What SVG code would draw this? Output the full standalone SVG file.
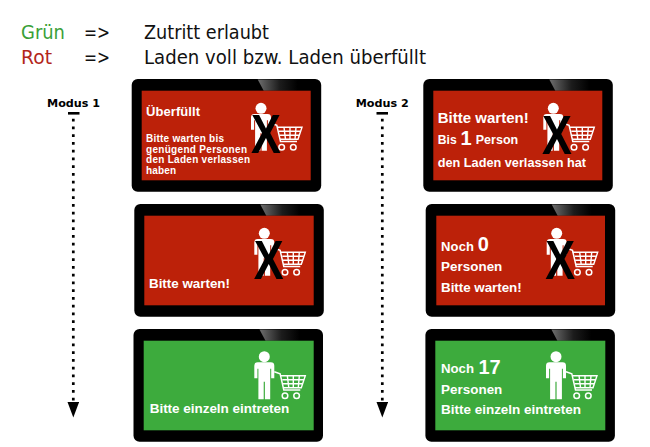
<svg xmlns="http://www.w3.org/2000/svg" width="650" height="447" viewBox="0 0 650 447">
<style>
.h{font-family:"DejaVu Sans",Verdana,sans-serif;font-size:19.5px;fill:#111}
.m{font-family:"DejaVu Sans",sans-serif;font-weight:bold;font-size:11.2px;fill:#000}
.t{font-family:"Liberation Sans",Arial,sans-serif;font-weight:bold;fill:#fff}
.x{font-family:"Liberation Sans",Arial,sans-serif;font-weight:bold;font-size:56px;fill:#000}
.r{fill:#bc2109}.g{fill:#3dab3d}
.dots{stroke:#000;stroke-width:2.7;stroke-dasharray:2.7 5.05;fill:none;marker-end:url(#arrow)}
.bar{stroke:#000;stroke-width:2.6;fill:none}
</style>
<defs>
<linearGradient id="gloss" x1="0" x2="1" y1="0" y2="0"><stop offset="0" stop-color="#6e6e6e"/><stop offset="0.55" stop-color="#1c1c1c"/><stop offset="1" stop-color="#000"/></linearGradient>
<marker id="arrow" markerUnits="userSpaceOnUse" markerWidth="16" markerHeight="12" refX="0" refY="5.8" orient="auto" viewBox="0 0 16 12"><path d="M0 0L15.5 5.8L0 11.6Z" fill="#000"/></marker>
<g id="bezel">
<rect x="0" y="0" width="189.5" height="112.8" rx="6" fill="#000"/>
<path d="M126 0.5H166V11.7H132Z" fill="url(#gloss)"/>
</g>
<g id="person" fill="#fff">
<circle cx="0" cy="0" r="5.5"/>
<path d="M-6.5 5.6H6.5Q10 5.6 10 9V21.5H6.9V12H5.9V42.5H0.6V25H-0.6V42.5H-5.9V12H-6.9V21.5H-10V9Q-10 5.6 -6.5 5.6Z"/>
</g>
<g id="cart" fill="none" stroke="#fff">
<path stroke-width="1.5" d="M10 15L15.8 17L19.5 33.2H36"/>
<path stroke-width="1.4" d="M16 19H41L37 31H19M18 23H40M18.5 27H38.5M23 19L24.5 31M29 19V31M35 19L34 31"/>
<circle cx="20.7" cy="39" r="2.8" stroke-width="1.5"/><circle cx="32.3" cy="39" r="2.8" stroke-width="1.5"/>
</g>
</defs>
<g id="legend">
<text class="h" x="21" y="39" textLength="44" lengthAdjust="spacingAndGlyphs" style="fill:#3a9f38">Grün</text>
<text class="h" x="84" y="39" textLength="26" lengthAdjust="spacingAndGlyphs">=&gt;</text>
<text class="h" x="144" y="39" textLength="125" lengthAdjust="spacingAndGlyphs">Zutritt erlaubt</text>
<text class="h" x="21" y="64" textLength="31" lengthAdjust="spacingAndGlyphs" style="fill:#b3261a">Rot</text>
<text class="h" x="84" y="64" textLength="26" lengthAdjust="spacingAndGlyphs">=&gt;</text>
<text class="h" x="144" y="64" textLength="282" lengthAdjust="spacingAndGlyphs">Laden voll bzw. Laden überfüllt</text>
</g>
<g id="connectors">
<path class="bar" d="M68 113.3H79.5"/>
<path class="dots" d="M73.3 118.7V402"/>
<path class="bar" d="M376.5 113.3H388"/>
<path class="dots" d="M382.3 118.7V402"/>
</g>
<g id="label-modus1"><text class="m" x="47" y="107">Modus 1</text></g>
<g id="label-modus2"><text class="m" x="355.7" y="107">Modus 2</text></g>

<g id="m1-1">
<use href="#bezel" x="131.7" y="79"/>
<rect class="r" x="141.7" y="90.7" width="169" height="89.6"/>
<text class="t" x="146" y="115.7" font-size="13" textLength="54">Überfüllt</text>
<text class="t" font-size="10" x="146" y="141.7" textLength="78">Bitte warten bis</text>
<text class="t" font-size="10" x="146" y="152.7" textLength="101">genügend Personen</text>
<text class="t" font-size="10" x="146" y="163.3" textLength="104">den Laden verlassen</text>
<text class="t" font-size="10" x="146" y="174" textLength="30">haben</text>
<use href="#person" x="261" y="108.3"/><use href="#cart" x="261" y="108.3"/>
<text class="x" transform="translate(266 153.3) scale(.8 1)" text-anchor="middle">X</text>
</g>
<g id="m1-2">
<use href="#bezel" x="134.3" y="204"/>
<rect class="r" x="144.3" y="215.7" width="169.4" height="89.6"/>
<text class="t" x="149" y="288.3" font-size="13.4" textLength="81">Bitte warten!</text>
<use href="#person" x="264.3" y="233.3"/><use href="#cart" x="264.3" y="233.3"/>
<text class="x" transform="translate(268.7 279.3) scale(.8 1)" text-anchor="middle">X</text>
</g>
<g id="m1-3">
<use href="#bezel" x="133.5" y="329"/>
<rect class="g" x="143.7" y="340.7" width="170" height="89.6"/>
<text class="t" x="149.7" y="413.4" font-size="13.5" textLength="139.6">Bitte einzeln eintreten</text>
<use href="#person" x="264.3" y="356.7"/><use href="#cart" x="264.3" y="356.7"/>
</g>
<g id="m2-1">
<use href="#bezel" x="423.3" y="79"/>
<rect class="r" x="433.3" y="90.7" width="169" height="89.6"/>
<text class="t" x="437.7" y="123.3" font-size="15" textLength="91">Bitte warten!</text>
<text class="t" x="437.7" y="144.3" font-size="12.2" textLength="19">Bis</text>
<text class="t" x="460.5" y="145" font-size="20">1</text>
<text class="t" x="475.7" y="144.3" font-size="12.5" textLength="42.5">Person</text>
<text class="t" x="437.7" y="166.7" font-size="12.7" textLength="148.3">den Laden verlassen hat</text>
<use href="#person" x="553.3" y="108.3"/><use href="#cart" x="553.3" y="108.3"/>
<text class="x" transform="translate(557 154) scale(.8 1)" text-anchor="middle">X</text>
</g>
<g id="m2-2">
<use href="#bezel" x="425.7" y="204"/>
<rect class="r" x="436.3" y="215.7" width="168.7" height="89.6"/>
<text class="t" x="441" y="250.7" font-size="13" textLength="33">Noch</text>
<text class="t" x="477.7" y="250.7" font-size="20">0</text>
<text class="t" x="441" y="270.7" font-size="13.4" textLength="61.3">Personen</text>
<text class="t" x="441" y="291.5" font-size="13.4" textLength="80.7">Bitte warten!</text>
<use href="#person" x="556.7" y="233.3"/><use href="#cart" x="556.7" y="233.3"/>
<text class="x" transform="translate(560.3 279.3) scale(.8 1)" text-anchor="middle">X</text>
</g>
<g id="m2-3">
<use href="#bezel" x="425.4" y="329"/>
<rect class="g" x="435.3" y="340.7" width="170" height="89.6"/>
<text class="t" x="441" y="373.3" font-size="13.2" textLength="33">Noch</text>
<text class="t" x="478.5" y="374" font-size="20">17</text>
<text class="t" x="441" y="394" font-size="13.4" textLength="61.3">Personen</text>
<text class="t" x="441" y="413.7" font-size="13.5" textLength="140">Bitte einzeln eintreten</text>
<use href="#person" x="556" y="356.7"/><use href="#cart" x="556" y="356.7"/>
</g>
</svg>
